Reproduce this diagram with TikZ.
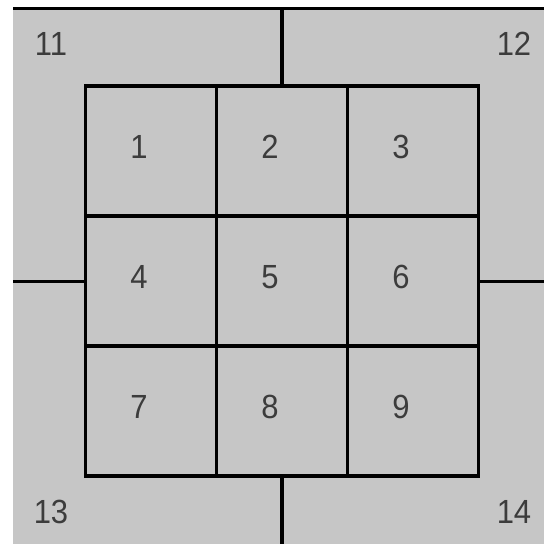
\documentclass[tikz,border=0pt]{standalone}
\usepackage{fontspec}
\setmainfont{Liberation Sans}
\definecolor{bg}{HTML}{C6C6C6}
\definecolor{txt}{HTML}{3C3C3C}
\begin{document}
\begin{tikzpicture}[x=1pt,y=-1pt,
  cell/.style={draw=black,line width=3.8pt,minimum width=131pt,minimum height=130pt,inner sep=0pt},
  num/.style={text=txt,font=\fontsize{31}{31}\selectfont,inner sep=0pt,yscale=1.08},
  wire/.style={draw=black,line width=3pt}]
\useasboundingbox (0,0) rectangle (544,544);
\fill[white] (0,0) rectangle (544,544);
\fill[bg] (13,8.5) rectangle (544,544);
\draw[black,line width=3pt] (13,8.5) -- (544,8.5);
% cells
\node[cell] (c1) at (151,151) {};
\node[cell] (c2) at (282,151) {};
\node[cell] (c3) at (413,151) {};
\node[cell] (c4) at (151,281) {};
\node[cell] (c5) at (282,281) {};
\node[cell] (c6) at (413,281) {};
\node[cell] (c7) at (151,411) {};
\node[cell] (c8) at (282,411) {};
\node[cell] (c9) at (413,411) {};
% numbers
\foreach \i in {1,...,9}{
  \node[num] (n\i) at ([shift={(-12,-4)}]c\i.center) {\i};
}
% connectors
\coordinate (top) at (282,8.5);
\coordinate (left) at (13,281);
\coordinate (right) at (544,281);
\coordinate (bottom) at (282,544);
\draw[wire,line width=3.8pt] (top) -- (c2.north);
\draw[wire] (left) -- (c4.west);
\draw[wire] (right) -- (c6.east);
\draw[wire,line width=3.8pt] (bottom) -- (c8.south);
% corner labels
\node[num] (l11) at (51,44) {11};
\node[num] (l12) at (514,44) {12};
\node[num] (l13) at (51,512) {13};
\node[num] (l14) at (514,512) {14};
\end{tikzpicture}
\end{document}
